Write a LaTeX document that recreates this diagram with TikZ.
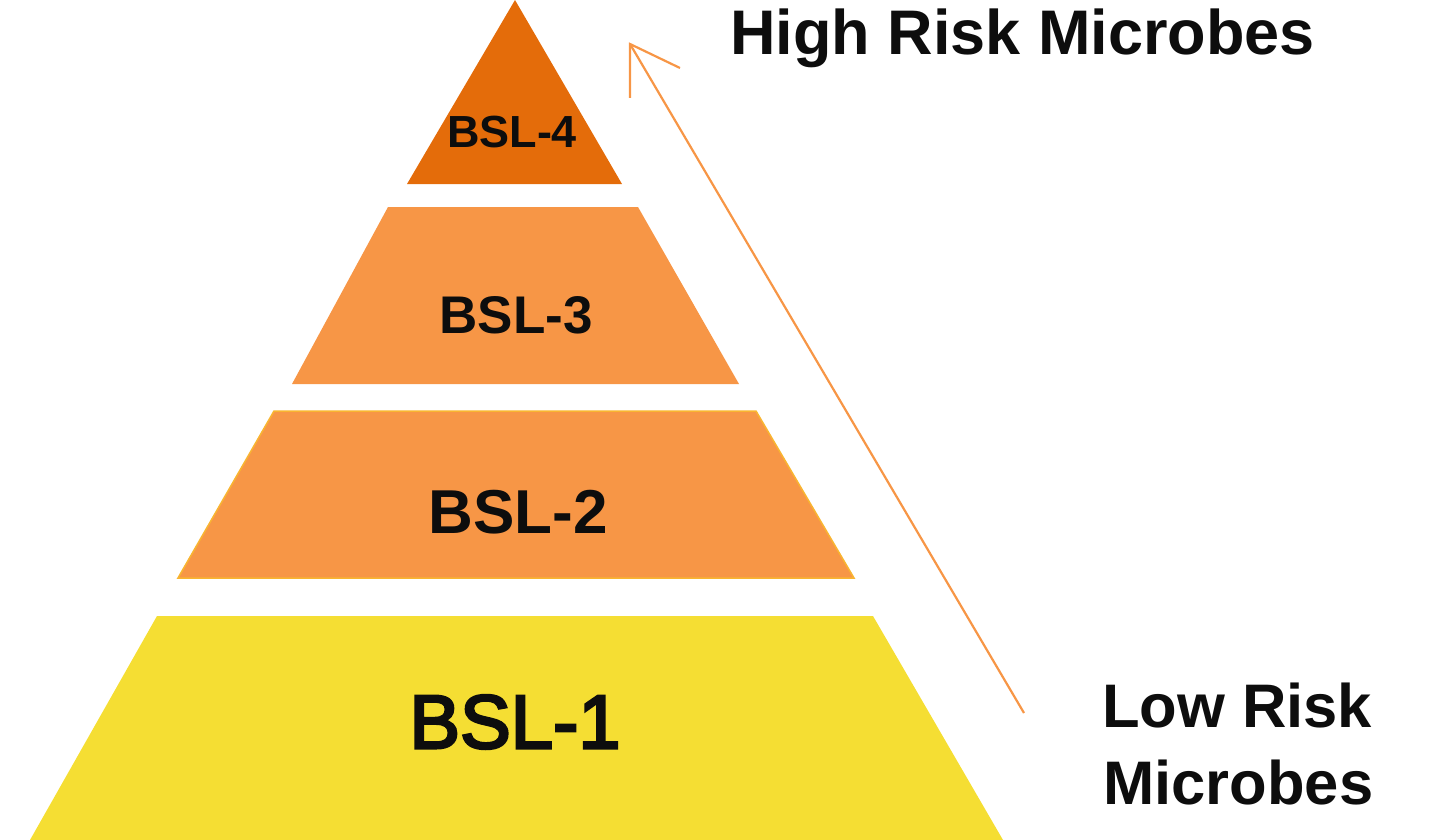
\documentclass[tikz,border=0pt]{standalone}
\usepackage{fontspec}
\setmainfont{Liberation Sans}
\newfontfamily\fakebf[FakeBold=3.5]{Liberation Sans}
\begin{document}
\begin{tikzpicture}[x=1pt,y=-1pt,
 lab/.style={text=black!95, inner sep=0pt, font=\bfseries},
 conn/.style={draw=mid, line width=2.2pt}]
\definecolor{lo}{HTML}{F5DE33}
\definecolor{mid}{HTML}{F79646}
\definecolor{top}{HTML}{E46C0A}
\useasboundingbox (0,0) rectangle (1440,840);
\fill[lo] (157,616) -- (873,616) -- (1003,840) -- (30,840) -- cycle;
\fill[mid,draw=mid!70!yellow,line width=1.5pt] (274,411) -- (756,411) -- (854,578) -- (178,578) -- cycle;
\fill[mid] (388,207) -- (638,207) -- (739,384) -- (292,384) -- cycle;
\fill[top] (515,0) -- (622,184) -- (407,184) -- cycle;
\node[lab] (t4) at (512,132) {\fontsize{45}{54}\selectfont BSL-4};
\node[lab] (t3) at (516,315) {\fontsize{53}{64}\selectfont BSL-3};
\node[lab] (t2) at (518,512) {\fontsize{62}{74}\selectfont BSL-2};
\node[lab,font=\fakebf] (t1) at (515,722) {\fontsize{76}{90}\selectfont BSL-1};
\node[lab,anchor=west] (hi) at (730,38) {\fontsize{63}{76}\selectfont High Risk Microbes};
\node[lab,anchor=west] (lw1) at (1102,706) {\fontsize{61.5}{74}\selectfont Low Risk};
\node[lab,anchor=west] (lw2) at (1103,783) {\fontsize{61.5}{74}\selectfont Microbes};
\coordinate (s) at (1024,713);
\coordinate (e) at (630,44);
\coordinate (h1) at (630,98);
\coordinate (h2) at (680,68);
\draw[conn] (s) -- (e);
\draw[conn] (h1) -- (e) -- (h2);
\end{tikzpicture}
\end{document}
